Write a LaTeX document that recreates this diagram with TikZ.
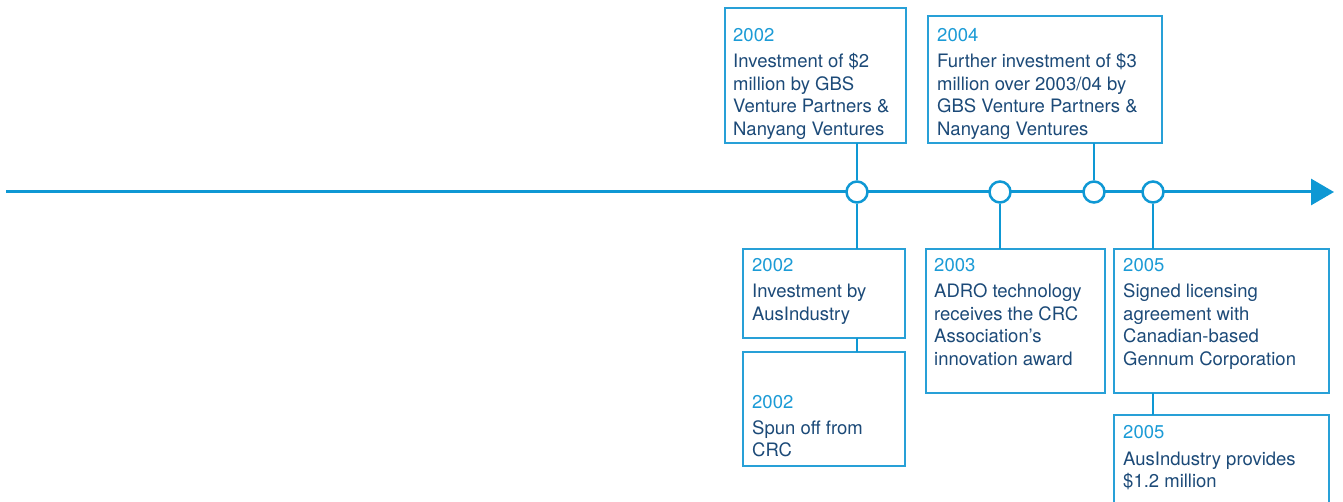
\documentclass[tikz,border=0pt]{standalone}
\usepackage{fontspec}
\setmainfont{TeX Gyre Heros}
\usetikzlibrary{arrows.meta}
\definecolor{linec}{RGB}{14,152,212}
\definecolor{boxc}{RGB}{40,160,215}
\definecolor{yearc}{RGB}{27,155,214}
\definecolor{bodyc}{RGB}{28,74,120}
\newcommand{\tlines}[1]{\begin{tabular}[t]{@{}l@{}}#1\end{tabular}}
\begin{document}
\begin{tikzpicture}[x=1pt,y=-1pt,
  axis/.style={draw=linec,line width=3pt},
  conn/.style={draw=linec,line width=2.5pt},
  dot/.style={circle,draw=linec,line width=2.5pt,fill=white,minimum size=21pt,inner sep=0pt},
  box/.style={rectangle,draw=boxc,line width=1.5pt,fill=white,inner sep=0pt,outer sep=0pt,anchor=north west},
  yr/.style={anchor=base west,inner sep=0pt,text=yearc,font=\fontsize{18.5}{22.5}\selectfont},
  body/.style={anchor=base west,inner sep=0pt,text=bodyc,font=\fontsize{18.5}{22.5}\selectfont}]
\useasboundingbox (0,0) rectangle (1343,502);
\clip (0,0) rectangle (1343,502);
% axis
\coordinate (start) at (6,192);
\coordinate (end) at (1334,192);
\draw[axis,-{Triangle[length=23pt,width=26pt]}] (start) -- (end);
% circles
\node[dot] (c1) at (857,192) {};
\node[dot] (c2) at (1000,192) {};
\node[dot] (c3) at (1094,192) {};
\node[dot] (c4) at (1153,192) {};
% boxes
\node[box,minimum width=181pt,minimum height=135pt] (b1) at (725,8) {};
\node[box,minimum width=234pt,minimum height=127pt] (b2) at (928,16) {};
\node[box,minimum width=162pt,minimum height=89pt] (b3) at (743,249) {};
\node[box,minimum width=162pt,minimum height=114pt] (b4) at (743,352) {};
\node[box,minimum width=179pt,minimum height=144pt] (b5) at (926,249) {};
\node[box,minimum width=215pt,minimum height=144pt] (b6) at (1114,249) {};
\node[box,minimum width=215pt,minimum height=100pt] (b7) at (1114,415) {};
% connectors
\draw[conn] (c1.north) -- (c1.north |- b1.south);
\draw[conn] (c1.south) -- (c1.south |- b3.north);
\draw[conn] (b3.south -| c1) -- (b4.north -| c1);
\draw[conn] (c2.south) -- (c2.south |- b5.north);
\draw[conn] (c3.north) -- (c3.north |- b2.south);
\draw[conn] (c4.south) -- (c4.south |- b6.north);
\draw[conn] (b6.south -| c4) -- (b7.north -| c4);
% texts
\node[yr] (y1) at (733,42) {2002};
\node[body] (t1) at (733,68) {\tlines{Investment of \$2\\million by GBS\\Venture Partners \&\\Nanyang Ventures}};
\node[yr] (y2) at (937,42) {2004};
\node[body] (t2) at (937,68) {\tlines{Further investment of \$3\\million over 2003/04 by\\GBS Venture Partners \&\\Nanyang Ventures}};
\node[yr] (y3) at (752,272) {2002};
\node[body] (t3) at (752,298) {\tlines{Investment by\\AusIndustry}};
\node[yr] (y4) at (752,408) {2002};
\node[body] (t4) at (752,434) {\tlines{Spun off from\\CRC}};
\node[yr] (y5) at (934,272) {2003};
\node[body] (t5) at (934,298) {\tlines{ADRO technology\\receives the CRC\\Association’s\\innovation award}};
\node[yr] (y6) at (1123,272) {2005};
\node[body] (t6) at (1123,298) {\tlines{Signed licensing\\agreement with\\Canadian-based\\Gennum Corporation}};
\node[yr] (y7) at (1123,438) {2005};
\node[body] (t7) at (1123,465) {\tlines{AusIndustry provides\\\$1.2 million}};
\end{tikzpicture}
\end{document}
